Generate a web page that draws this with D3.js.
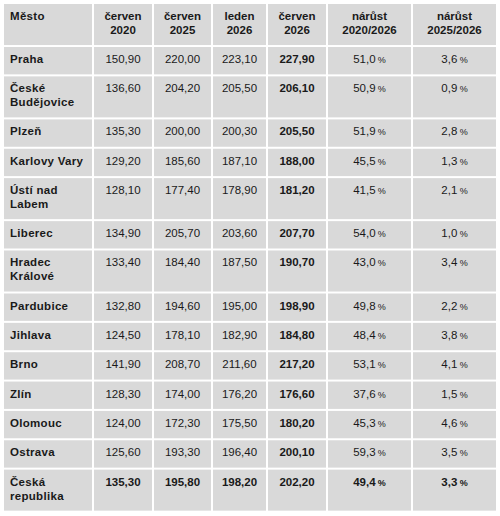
<!DOCTYPE html><html><head><meta charset="utf-8"><script src="https://cdn.jsdelivr.net/npm/d3@7"></script>
<style>body{margin:0;background:#fff}</style></head><body><svg id="c" width="500" height="516"></svg><script>
const headers=[["Město"],["červen","2020"],["červen","2025"],["leden","2026"],["červen","2026"],["nárůst","2020/2026"],["nárůst","2025/2026"]];
const cities=[["Praha"],["České","Budějovice"],["Plzeň"],["Karlovy Vary"],["Ústí nad","Labem"],["Liberec"],["Hradec","Králové"],["Pardubice"],["Jihlava"],["Brno"],["Zlín"],["Olomouc"],["Ostrava"],["Česká","republika"]];
const jun2020=["150,90","136,60","135,30","129,20","128,10","134,90","133,40","132,80","124,50","141,90","128,30","124,00","125,60","135,30"];
const jun2025=["220,00","204,20","200,00","185,60","177,40","205,70","184,40","194,60","178,10","208,70","174,00","172,30","193,30","195,80"];
const jan2026=["223,10","205,50","200,30","187,10","178,90","203,60","187,50","195,00","182,90","211,60","176,20","175,50","196,40","198,20"];
const jun2026=["227,90","206,10","205,50","188,00","181,20","207,70","190,70","198,90","184,80","217,20","176,60","180,20","200,10","202,20"];
const g2020=["51,0","50,9","51,9","45,5","41,5","54,0","43,0","49,8","48,4","53,1","37,6","45,3","59,3","49,4"];
const g2025=["3,6","0,9","2,8","1,3","2,1","1,0","3,4","2,2","3,8","4,1","1,5","4,6","3,5","3,3"];
const colEdges=[4,93,153,212,267,327,412,497];
const svg=d3.select("#c");
const rows=[{cells:headers,bold:[1,1,1,1,1,1,1],hdr:true}];
cities.forEach((c,i)=>{const last=i===cities.length-1;
rows.push({cells:[c,[jun2020[i]],[jun2025[i]],[jan2026[i]],[jun2026[i]],[g2020[i],"%"],[g2025[i],"%"]],bold:last?[1,1,1,1,1,1,1]:[1,0,0,0,1,0,0]});});
const heights=rows.map(r=>r.cells.some(c=>c.length>1&&c[1]!=="%")?42:28);
const total=d3.sum(heights)+2*(rows.length-1);
const sc=506/total;
const FF="Liberation Sans, Arial, sans-serif";
let y=4;
rows.forEach((r,ri)=>{const h=heights[ri]*sc;
 r.cells.forEach((c,ci)=>{const x0=colEdges[ci]+(ci?1:0),x1=colEdges[ci+1]-1;
  svg.append("rect").attr("x",x0).attr("y",y).attr("width",x1-x0).attr("height",h).attr("fill","#d9d9d9");
  const left=ci===0, tx=left?x0+6:(x0+x1)/2;
  const fw=r.bold[ci]?"bold":"normal";
  if(c[1]==="%"){
   const t=svg.append("text").attr("x",tx).attr("y",y+16).attr("text-anchor","middle").attr("font-family",FF).attr("font-size",11.5).attr("font-weight",fw).attr("fill","#1a1a1a");
   t.append("tspan").text(c[0]+"\u2009");t.append("tspan").attr("font-size",9).text("%");
  } else c.forEach((line,li)=>{
   svg.append("text").attr("x",tx).attr("y",y+16+li*14).attr("text-anchor",left?"start":"middle").attr("font-family",FF).attr("font-size",11.5).attr("font-weight",fw).attr("letter-spacing",fw==="bold"&&left?0.3:0).attr("fill","#1a1a1a").text(line);
  });
 });
 y+=h+2;});
</script></body></html>
